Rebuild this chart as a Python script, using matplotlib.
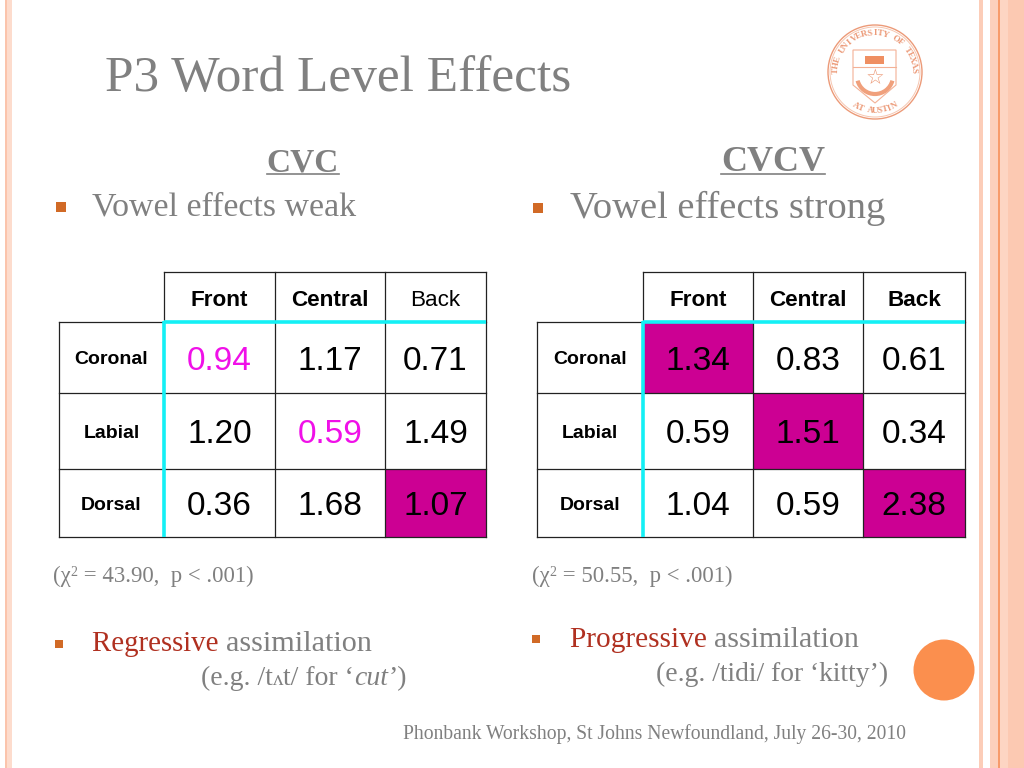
import numpy as np
import matplotlib
matplotlib.use("Agg")
import matplotlib.pyplot as plt
from matplotlib.patches import Arc, Circle, Rectangle, Polygon

# table data
COLS = ["Front", "Central", "Back"]
ROWS = ["Coronal", "Labial", "Dorsal"]
CVC = [["0.94", "1.17", "0.71"],
       ["1.20", "0.59", "1.49"],
       ["0.36", "1.68", "1.07"]]
CVCV = [["1.34", "0.83", "0.61"],
        ["0.59", "1.51", "0.34"],
        ["1.04", "0.59", "2.38"]]
CVC_PINK = [(0, 0), (1, 1)]
CVC_FILL = [(2, 2)]
CVCV_FILL = [(0, 0), (1, 1), (2, 2)]
CVC_BOLD_HEAD = [True, True, False]
CVCV_BOLD_HEAD = [True, True, True]

GRAY = "#808080"
SERIF = "Liberation Serif"
SANS = "Liberation Sans"
MAGENTA = "#cc0093"
CYAN = "#14f0f5"
ORANGE = "#d16a26"
RED = "#b03020"

fig = plt.figure(figsize=(10.24, 7.68), dpi=100)
ax = fig.add_axes([0, 0, 1, 1])
ax.set_xlim(0, 1024)
ax.set_ylim(768, 0)
ax.axis("off")


def band(x0, x1, color):
    ax.add_patch(Rectangle((x0, 0), x1 - x0, 768, color=color, lw=0))


# side stripes
band(5, 7, "#fbc4ac")
band(7, 12, "#fddccd")
band(979, 983, "#fccdb8")
band(990, 998, "#fcd0bc")
band(998, 999.5, "#f79b6b")
band(999.5, 1008, "#fdd5c3")
band(1008, 1024, "#fcc9b2")


def draw_table(xs, ys, values, head_bold, fills, pinks):
    # filled cells first so the lines sit on top
    for r, c in fills:
        ax.add_patch(Rectangle((xs[c + 1], ys[r + 1]), xs[c + 2] - xs[c + 1],
                               ys[r + 2] - ys[r + 1], color=MAGENTA, lw=0))
    lw = 0.9
    col = "#222222"
    # header row lines
    ax.plot([xs[1], xs[-1]], [ys[0], ys[0]], color=col, lw=lw)
    for x in xs[1:]:
        ax.plot([x, x], [ys[0], ys[1]], color=col, lw=lw)
    # body lines
    ax.plot([xs[0], xs[1]], [ys[1], ys[1]], color=col, lw=lw)
    ax.plot([xs[0], xs[0]], [ys[1], ys[-1]], color=col, lw=lw)
    for x in xs[2:]:
        ax.plot([x, x], [ys[1], ys[-1]], color=col, lw=lw)
    for y in ys[2:]:
        ax.plot([xs[0], xs[-1]], [y, y], color=col, lw=lw)
    # cyan header rules
    ax.plot([xs[1], xs[-1]], [ys[1], ys[1]], color=CYAN, lw=2.6, solid_capstyle="butt")
    ax.plot([xs[1], xs[1]], [ys[1] - 1.5, ys[-1]], color=CYAN, lw=2.6, solid_capstyle="butt")

    for j, name in enumerate(COLS):
        ax.text((xs[j + 1] + xs[j + 2]) / 2, (ys[0] + ys[1]) / 2 + 3, name,
                family=SANS, fontsize=16.2, ha="center", va="center", color="black",
                fontweight="bold" if head_bold[j] else "normal")
    for i, name in enumerate(ROWS):
        ym = (ys[i + 1] + ys[i + 2]) / 2
        ax.text((xs[0] + xs[1]) / 2, ym + 2, name, family=SANS, fontsize=14,
                fontweight="bold", ha="center", va="center", color="black")
        for j in range(3):
            c = "#f010e8" if (i, j) in pinks else "black"
            ax.text((xs[j + 1] + xs[j + 2]) / 2, ym + 3.5, values[i][j], family=SANS,
                    fontsize=24, ha="center", va="center", color=c)


draw_table([59, 164, 275, 385, 486], [272, 322, 393, 469, 537], CVC,
           CVC_BOLD_HEAD, CVC_FILL, CVC_PINK)
draw_table([537, 643, 753, 863, 965], [272, 322, 393, 469, 537], CVCV,
           CVCV_BOLD_HEAD, CVCV_FILL, [])


def run(x, y, pieces):
    # pieces of (string, colour, size, style, raise), set one after another
    rend = fig.canvas.get_renderer()
    for s, color, size, style, up in pieces:
        t = ax.text(x, y - up, s, family=[SERIF, "DejaVu Sans"], fontsize=size, color=color,
                    style=style, va="baseline", ha="left")
        # measure with a guard so trailing spaces count
        t.set_text(s + "|")
        w1 = t.get_window_extent(rend).width
        t.set_text("|")
        w0 = t.get_window_extent(rend).width
        t.set_text(s)
        x += w1 - w0


# title and headings
ax.text(105, 91, "P3 Word Level Effects", family=SERIF, fontsize=37, color=GRAY, va="baseline")
ax.text(303, 171, "CVC", family=SERIF, fontsize=24, fontweight="bold", color=GRAY,
        ha="center", va="baseline")
ax.plot([267, 339], [174, 174], color=GRAY, lw=1.2)
ax.text(773, 171, "CVCV", family=SERIF, fontsize=26, fontweight="bold", color=GRAY,
        ha="center", va="baseline")
ax.plot([721, 825], [174, 174], color=GRAY, lw=1.2)

# bullets
for x, y, s in [(61, 207, 10), (538, 208, 10), (59, 644, 8), (536, 639, 8)]:
    ax.add_patch(Rectangle((x - s / 2, y - s / 2), s, s, color=ORANGE, lw=0))

ax.text(92, 215, "Vowel effects weak", family=SERIF, fontsize=24.4, color=GRAY, va="baseline")
ax.text(570, 218, "Vowel effects strong", family=SERIF, fontsize=27.7, color=GRAY, va="baseline")

# chi square lines
run(53, 582, [("(\u03c7", GRAY, 16.4, "normal", 0), ("2", GRAY, 10, "normal", 6),
              (" = 43.90,  p < .001)", GRAY, 16.4, "normal", 0)])
run(532, 582, [("(\u03c7", GRAY, 16.4, "normal", 0), ("2", GRAY, 10, "normal", 6),
               (" = 50.55,  p < .001)", GRAY, 16.4, "normal", 0)])

# assimilation notes
run(92, 651, [("Regressive ", RED, 20.8, "normal", 0), ("assimilation", GRAY, 21.7, "normal", 0)])
run(201, 685, [("(e.g. /t", GRAY, 20, "normal", 0), ("\u028c", GRAY, 15, "normal", 0),
               ("t/ for \u2018", GRAY, 20, "normal", 0), ("cut", GRAY, 20, "italic", 0),
               ("\u2019)", GRAY, 20, "normal", 0)])
run(570, 647, [("Progressive ", RED, 21.2, "normal", 0), ("assimilation", GRAY, 21.6, "normal", 0)])
run(656, 681, [("(e.g. /tidi/ for \u2018kitty\u2019)", GRAY, 19.9, "normal", 0)])

# footer
ax.text(403, 739, "Phonbank Workshop, St Johns Newfoundland, July 26-30, 2010", family=SERIF,
        fontsize=14.1, color=GRAY, va="baseline")

# orange dot
ax.add_patch(Circle((944, 670), 30.5, color="#fb8f4e", lw=0))

# seal
SEAL_X, SEAL_Y = 875, 72
SEAL_COL = "#ec9a78"
ax.add_patch(Circle((SEAL_X, SEAL_Y), 47, fill=False, ec=SEAL_COL, lw=1.0))
ax.add_patch(Circle((SEAL_X, SEAL_Y), 45, fill=False, ec="#f6c6b0", lw=0.7))
ax.add_patch(Polygon([(853, 50), (896, 50), (896, 85), (875, 103), (853, 85)], closed=True,
                     fill=False, ec="#f3b196", lw=0.8))
ax.plot([853, 896], [67, 67], color="#f3b196", lw=0.8)
ax.add_patch(Rectangle((865, 56), 19, 8, color="#ef8f62", lw=0))
ax.add_patch(Arc((875, 76), 36, 36, theta1=15, theta2=165, color="#f0a07c", lw=3))
ax.text(875, 78, "\u2606", family="DejaVu Sans", fontsize=15, color=SEAL_COL, ha="center",
        va="center")


def ring_text(s, start, step, radius, flip):
    for i, ch in enumerate(s):
        a = start + i * step
        px = SEAL_X + radius * np.cos(np.radians(a))
        py = SEAL_Y - radius * np.sin(np.radians(a))
        rot = a + 90 if flip else a - 90
        ax.text(px, py, ch, family=SERIF, fontsize=6.5, fontweight="bold", color=SEAL_COL,
                ha="center", va="center", rotation=rot)


ring_text("THE UNIVERSITY OF TEXAS", 178, -8.0, 39, False)
ring_text("AT AUSTIN", 240, 7.5, 39, True)

fig.savefig("out.png", dpi=100)
